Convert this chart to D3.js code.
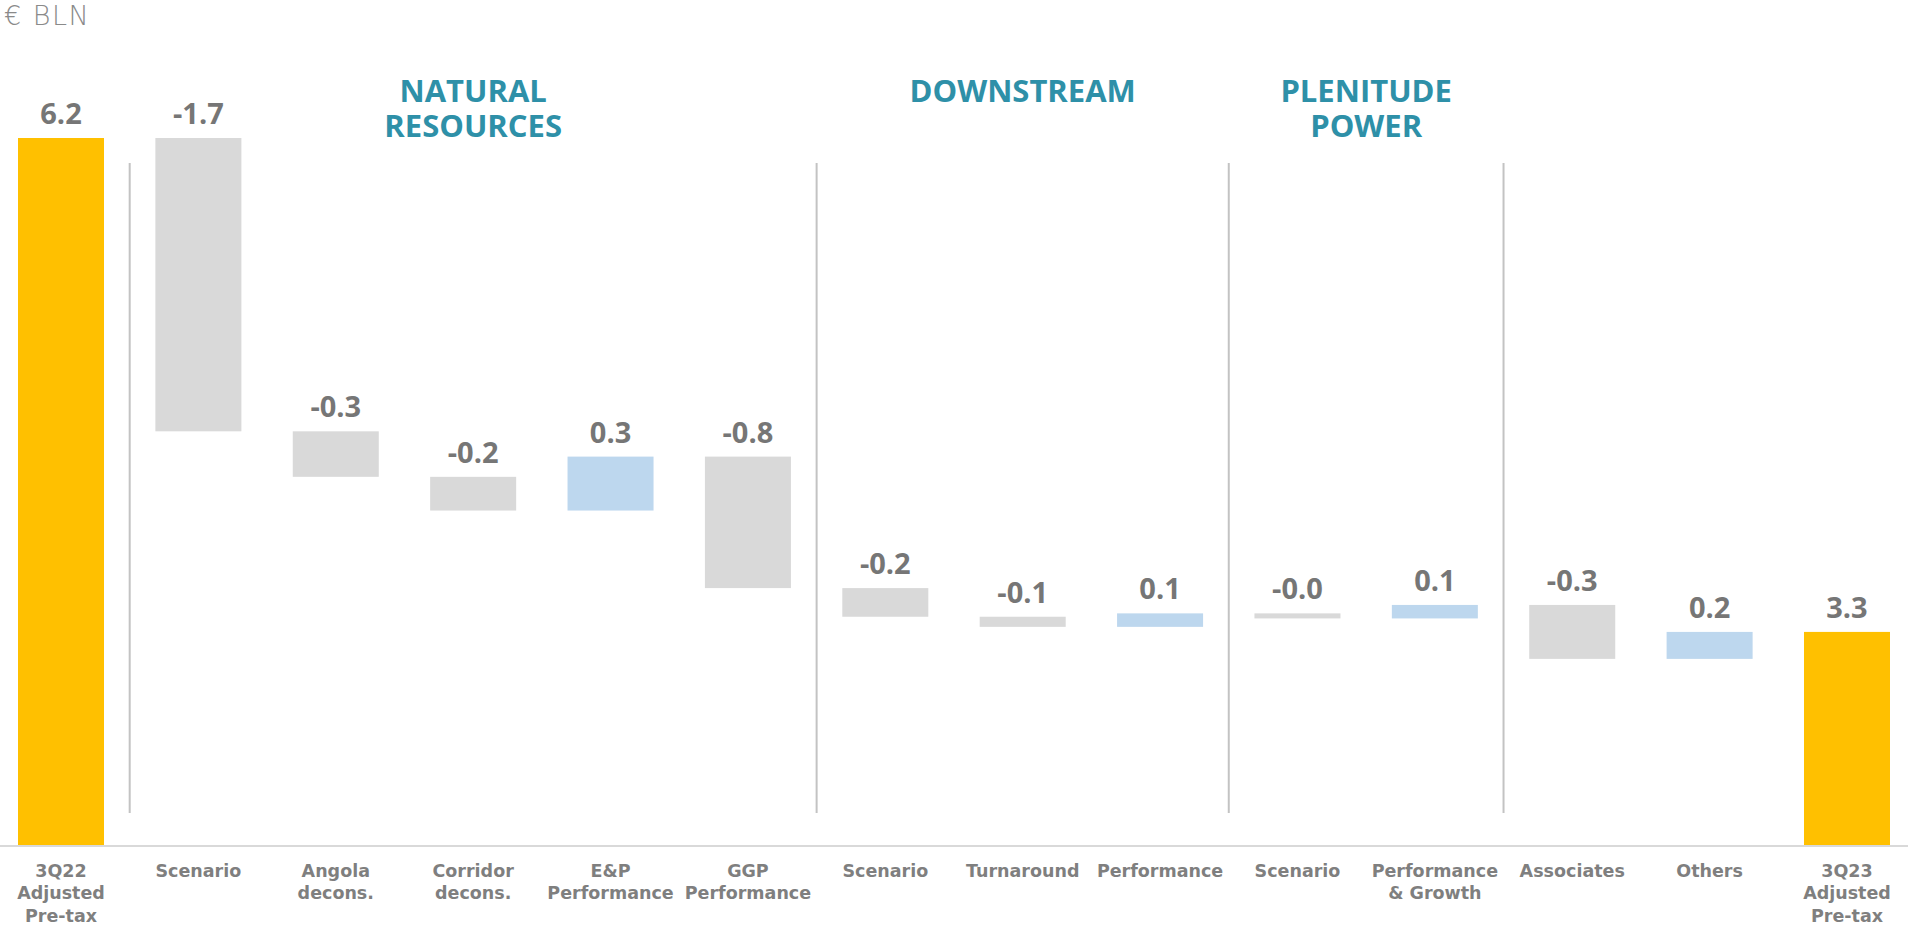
<!DOCTYPE html>
<html>
<head>
<meta charset="utf-8">
<script src="https://cdn.jsdelivr.net/npm/d3@7"></script>
<style>
  body { margin: 0; background: #fff; }
  svg { display: block; }
</style>
</head>
<body>
<div id="chart"></div>
<script>
// Bridge of adjusted pre-tax result, € bln
const categories = [
  ["3Q22", "Adjusted", "Pre-tax"],
  ["Scenario"],
  ["Angola", "decons."],
  ["Corridor", "decons."],
  ["E&P", "Performance"],
  ["GGP", "Performance"],
  ["Scenario"],
  ["Turnaround"],
  ["Performance"],
  ["Scenario"],
  ["Performance", "& Growth"],
  ["Associates"],
  ["Others"],
  ["3Q23", "Adjusted", "Pre-tax"]
];
const startTotal = 6.2;
const endTotal = 3.27;
const deltas = [-1.74, -0.27, -0.20, 0.32, -0.78, -0.17, -0.06, 0.08, -0.03, 0.08, -0.32, 0.16];

const groupTitles = [["NATURAL", "RESOURCES"], ["DOWNSTREAM"], ["PLENITUDE", "POWER"]];
const groupFirst = [1, 6, 9];
const groupLast = [5, 8, 10];
const dividerAfter = [0, 5, 8, 10];

const unitLabel = "€ BLN";

const width = 1908, height = 930;
const colors = { total: "#FFC000", down: "#D9D9D9", up: "#BDD7EE" };

// waterfall rows: each bar runs from y0 to y1
const rows = [];
rows.push({ type: "total", value: startTotal, y0: null, y1: startTotal });
let running = startTotal;
deltas.forEach(d => {
  rows.push({ type: d < 0 ? "down" : "up", value: d, y0: running, y1: running + d });
  running += d;
});
rows.push({ type: "total", value: endTotal, y0: null, y1: endTotal });

const x = d3.scaleBand()
  .domain(d3.range(rows.length))
  .range([18, 1890])
  .paddingInner(0.374)
  .paddingOuter(0);

const y = d3.scaleLinear()
  .domain([2, 6.2])
  .range([846, 138]);

const baseValue = y.domain()[0];
const barTop = d => y(Math.max(d.y0 === null ? baseValue : d.y0, d.y1));

const svg = d3.select("#chart")
  .append("svg")
  .attr("width", width)
  .attr("height", height);

// unit caption
svg.append("text")
  .attr("x", 4)
  .attr("y", 25)
  .attr("fill", "#8a8a8a")
  .style("font-family", "'DejaVu Sans', sans-serif")
  .style("font-weight", 200)
  .style("font-size", "27px")
  .style("letter-spacing", "1.5px")
  .text(unitLabel);

// group separators
const midBetween = i => (x(i) + x.bandwidth() + x(i + 1)) / 2;
svg.append("g")
  .selectAll("line")
  .data(dividerAfter)
  .join("line")
  .attr("x1", d => midBetween(d))
  .attr("x2", d => midBetween(d))
  .attr("y1", 163)
  .attr("y2", 813)
  .attr("stroke", "#c3c3c3")
  .attr("stroke-width", 2);

// group titles, one text per line
const titleData = [];
groupTitles.forEach((t, i) => {
  const cx = (x(groupFirst[i]) + x(groupLast[i]) + x.bandwidth()) / 2;
  t.forEach((line, j) => titleData.push({ text: line, cx: cx, row: j }));
});
svg.append("g")
  .selectAll("text")
  .data(titleData)
  .join("text")
  .attr("x", d => d.cx)
  .attr("y", d => 102 + d.row * 35)
  .attr("text-anchor", "middle")
  .attr("fill", "#2e90a8")
  .style("font-family", "'Open Sans', sans-serif")
  .style("font-weight", 700)
  .style("font-size", "31px")
  .text(d => d.text);

// bars
svg.append("g")
  .selectAll("rect")
  .data(rows)
  .join("rect")
  .attr("x", (d, i) => x(i))
  .attr("width", x.bandwidth())
  .attr("y", barTop)
  .attr("height", d => Math.abs(y(d.y0 === null ? baseValue : d.y0) - y(d.y1)))
  .attr("fill", d => colors[d.type]);

// value labels above each bar
svg.append("g")
  .selectAll("text")
  .data(rows)
  .join("text")
  .attr("x", (d, i) => x(i) + x.bandwidth() / 2)
  .attr("y", d => barTop(d) - 14)
  .attr("text-anchor", "middle")
  .attr("fill", "#767676")
  .style("font-family", "'Open Sans', sans-serif")
  .style("font-weight", 700)
  .style("font-size", "29px")
  .text(d => d.value.toFixed(1));

// baseline
svg.append("line")
  .attr("x1", 0)
  .attr("x2", width)
  .attr("y1", y(baseValue))
  .attr("y2", y(baseValue))
  .attr("stroke", "#d9d9d9")
  .attr("stroke-width", 2);

// category labels
const catLabels = svg.append("g")
  .selectAll("text")
  .data(categories)
  .join("text")
  .attr("text-anchor", "middle")
  .attr("fill", "#7f7f7f")
  .style("font-family", "'DejaVu Sans', sans-serif")
  .style("font-weight", 700)
  .style("font-size", "17.5px")
  .attr("transform", (d, i) => "translate(" + (x(i) + x.bandwidth() / 2) + ",877)");
catLabels.selectAll("tspan")
  .data(d => d)
  .join("tspan")
  .attr("x", 0)
  .attr("y", (d, i) => i * 22.3)
  .text(d => d);
</script>
</body>
</html>
